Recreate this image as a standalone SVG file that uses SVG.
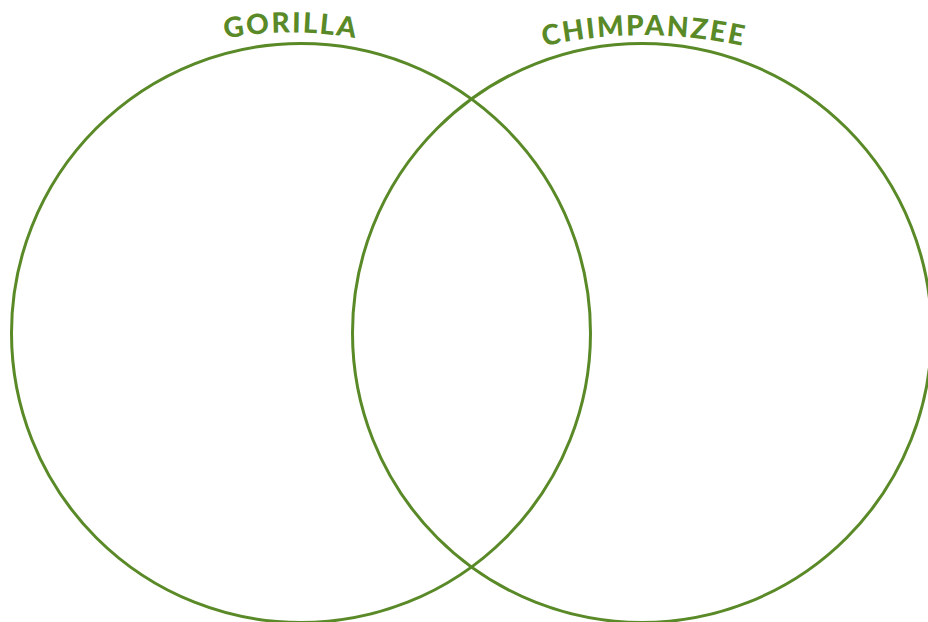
<svg xmlns="http://www.w3.org/2000/svg" width="928" height="622" viewBox="0 0 928 622">
<style>
.ring{fill:none;stroke:#5a8a28;stroke-width:3}
.lbl{fill:#5a8a28;font-family:Lato,"Open Sans","Liberation Sans",sans-serif;font-weight:900;font-size:28px;letter-spacing:2px}
</style>
<defs>
<path id="arcG" d="M 131 70 A 360 360 0 0 1 451 70"/>
<path id="arcC" d="M 444 81 A 460 460 0 0 1 844 81"/>
</defs>
<rect width="928" height="622" fill="#ffffff"/>
<g id="gorilla">
<circle class="ring" cx="301" cy="333" r="289.5"/>
<text class="lbl" text-anchor="middle"><textPath href="#arcG" startOffset="50%">GORILLA</textPath></text>
</g>
<g id="chimpanzee">
<circle class="ring" cx="642" cy="333" r="289.5"/>
<text class="lbl" text-anchor="middle"><textPath href="#arcC" startOffset="50%">CHIMPANZEE</textPath></text>
</g>
<g id="connectors"/>
</svg>
